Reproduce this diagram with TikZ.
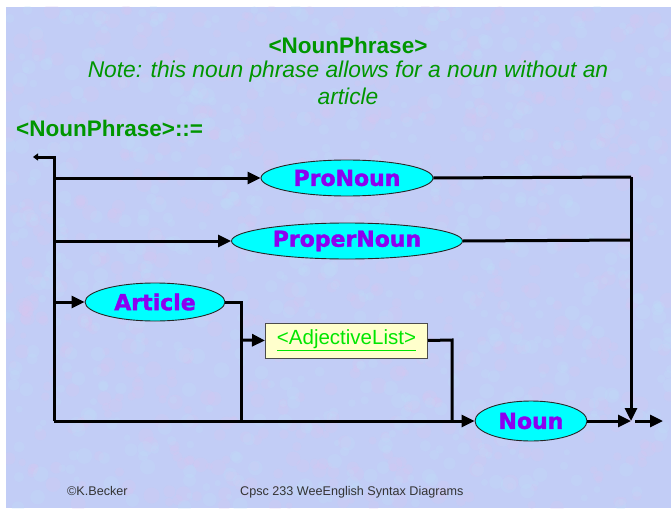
\documentclass[tikz,border=0pt]{standalone}
\usepackage{fontspec}
\setmainfont{Liberation Sans}
\newfontfamily\heavyfont{DejaVu Sans}[BoldFeatures={FakeBold=1.6}]
\usetikzlibrary{shapes.geometric,arrows.meta}

\definecolor{bgblue}{RGB}{194,205,246}
\definecolor{bgpink}{RGB}{220,198,240}
\definecolor{bgcyan}{RGB}{190,224,250}
\definecolor{titlegreen}{RGB}{0,150,0}
\definecolor{linkgreen}{RGB}{0,230,0}
\definecolor{termfill}{RGB}{0,255,255}
\definecolor{termtext}{RGB}{140,0,240}
\definecolor{boxfill}{RGB}{255,255,204}

\tikzset{
  term/.style={ellipse, draw=black!85, line width=0.9pt, fill=termfill, inner sep=0pt,
    text=termtext, font=\heavyfont\bfseries\fontsize{22}{26}\selectfont},
  nonterm/.style={rectangle, draw=black!70, line width=1pt, fill=boxfill, inner sep=0pt,
    minimum width=162pt, minimum height=35pt, text=linkgreen,
    font=\fontsize{20.5}{24}\selectfont},
  rail/.style={draw=black, line width=3pt},
  arr/.style={rail, -{Triangle[length=13pt,width=12pt]}},
  heading/.style={text=titlegreen, font=\bfseries\fontsize{22.5}{26}\selectfont},
  note/.style={text=titlegreen, font=\itshape\fontsize{22.8}{26}\selectfont},
  footer/.style={text=black!80, font=\fontsize{12.6}{15}\selectfont, anchor=west, inner sep=0pt}
}

\begin{document}
\begin{tikzpicture}[x=1pt,y=-1pt]
\useasboundingbox (0,0) rectangle (671,508);
% mottled paper background
\fill[bgblue] (6,7) rectangle (671,508);
\begin{scope}
\clip (6,7) rectangle (671,508);
\pgfmathsetseed{233}
\foreach \i in {1,...,700} {
  \pgfmathsetmacro{\px}{6+665*rnd}
  \pgfmathsetmacro{\py}{7+501*rnd}
  \pgfmathsetmacro{\pr}{3+5*rnd}
  \fill[bgpink, opacity=0.22] (\px,\py) circle[radius=\pr];
}
\foreach \i in {1,...,700} {
  \pgfmathsetmacro{\px}{6+665*rnd}
  \pgfmathsetmacro{\py}{7+501*rnd}
  \pgfmathsetmacro{\pr}{3+5*rnd}
  \fill[bgcyan, opacity=0.22] (\px,\py) circle[radius=\pr];
}
\end{scope}

% headings
\node[heading] (title) at (348,45) {<NounPhrase>};
\node[note] (note1) at (348,72) {Note: this noun phrase allows for a noun without an};
\node[note] (note2) at (348,96) {article};
\node[heading, anchor=west, inner sep=0pt] (rule) at (16,128) {<NounPhrase>::=};

% symbols
\node[term, minimum width=172pt, minimum height=36pt] (pronoun) at (347,178) {ProNoun};
\node[term, minimum width=231pt, minimum height=36pt] (proper) at (347,241) {ProperNoun};
\node[term, minimum width=140pt, minimum height=38pt] (article) at (155,302) {Article};
\node[nonterm] (adj) at (346.5,340.5) {\underline{<AdjectiveList>}};
\node[term, minimum width=112pt, minimum height=40pt] (noun) at (531,421) {Noun};

% rail corners
\coordinate (s) at (33,157);
\coordinate (top) at (54,157);
\coordinate (bot) at (54,421);
\coordinate (b1) at (54,178);
\coordinate (b2) at (54,241);
\coordinate (b3) at (54,302);
\coordinate (a1) at (241,302);
\coordinate (a2) at (241,421);
\coordinate (a3) at (241,340);
\coordinate (c1) at (452,340);
\coordinate (c2) at (452,421);
\coordinate (r1) at (631,177);
\coordinate (r2) at (631,240);
\coordinate (j) at (631,421);
\coordinate (jr) at (635,421);
\coordinate (e) at (663,421);

% rails
\draw[rail, {Triangle[length=5pt,width=7pt]}-] (s) -- (top) -- (bot);
\draw[arr] (b1) -- (pronoun.west);
\draw[arr] (b2) -- (proper.west);
\draw[arr] (b3) -- (article.west);
\draw[arr] (bot) -- (noun.west);
\draw[rail] (article.east) -- (a1) -- (a2);
\draw[arr] (a3) -- (adj.west);
\draw[rail] (adj.east) -- (c1) -- (c2);
\draw[rail] (pronoun.east) -- (r1);
\draw[rail] (proper.east) -- (r2);
\draw[arr] (r1) -- (j);
\draw[arr] (noun.east) -- (j);
\draw[arr] (jr) -- (e);

% footer
\node[footer] (author) at (67,491) {©K.Becker};
\node[footer] (course) at (240,492) {Cpsc 233 WeeEnglish Syntax Diagrams};
\end{tikzpicture}
\end{document}
